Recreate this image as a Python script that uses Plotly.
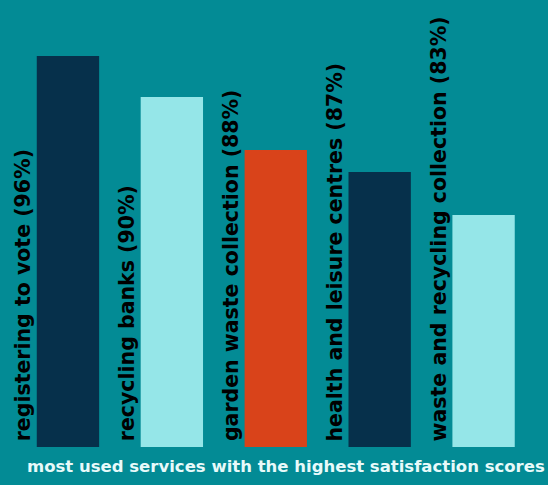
import plotly.graph_objects as go

services = ["registering to vote", "recycling banks", "garden waste collection",
            "health and leisure centres", "waste and recycling collection"]
satisfaction_pct = [96, 90, 88, 87, 83]
# drawn bar heights (infographic, not proportional to the percentages)
bar_heights = [391, 350, 297, 275, 232]
bar_colors = ["#06304B", "#95E6E8", "#D9431A", "#06304B", "#95E6E8"]
title_text = "most used services with the highest satisfaction scores"

BG = "#038B95"
xs = list(range(len(services)))

fig = go.Figure()
fig.add_trace(go.Bar(
    x=xs, y=bar_heights, width=0.6,
    marker=dict(color=bar_colors, line=dict(width=0)),
    hoverinfo="skip",
))

for i, (s, p) in enumerate(zip(services, satisfaction_pct)):
    fig.add_annotation(
        x=i - 0.43, y=0, xref="x", yref="y",
        text=f"<b>{s} ({p}%)</b>", showarrow=False,
        textangle=-90, xanchor="center", yanchor="bottom", yshift=4,
        font=dict(family="DejaVu Sans", size=20.5, color="#000000"),
    )

fig.add_annotation(
    x=0.522, y=0, xref="paper", yref="paper", yanchor="top", yshift=-8,
    text=f"<b>{title_text}</b>", showarrow=False,
    font=dict(family="DejaVu Sans", size=16.5, color="#E8FAFA"),
)

fig.update_layout(
    width=548, height=485,
    margin=dict(l=0, r=0, t=0, b=38),
    paper_bgcolor=BG, plot_bgcolor=BG,
    showlegend=False,
    xaxis=dict(range=[-0.654, 4.62], visible=False, fixedrange=True),
    yaxis=dict(range=[0, 447], visible=False, fixedrange=True),
)

fig.write_html("out.html")
